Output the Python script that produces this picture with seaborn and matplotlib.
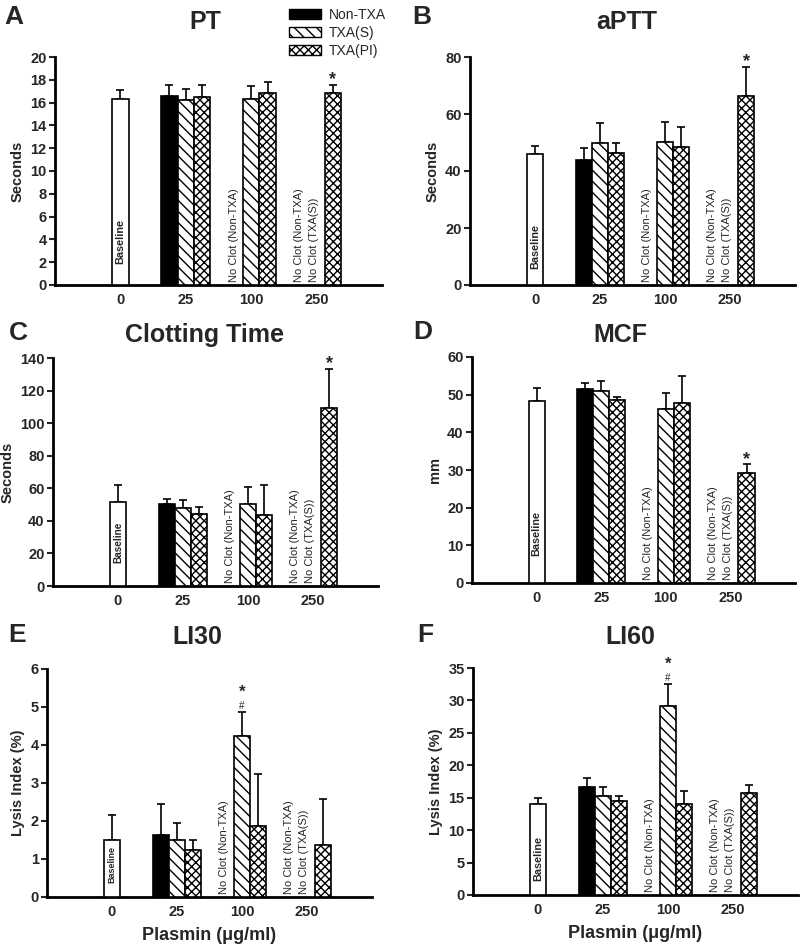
import numpy as np
import pandas as pd
import matplotlib
matplotlib.use('Agg')
import matplotlib.pyplot as plt
from matplotlib.patches import Patch
import seaborn as sns

# --- data ---
conc_labels = ['0', '25', '100', '250']
series_order = ['Baseline', 'Non-TXA', 'TXA(S)', 'TXA(PI)']

# one entry per drawn bar, same layout in every panel
bar_series = ['Baseline', 'Non-TXA', 'TXA(S)', 'TXA(PI)', 'TXA(S)', 'TXA(PI)', 'TXA(PI)']
bar_conc = ['0', '25', '25', '25', '100', '100', '250']

pt_mean = [16.3, 16.6, 16.25, 16.45, 16.3, 16.8, 16.85]
pt_sd = [0.8, 0.95, 0.95, 1.1, 1.15, 1.05, 0.7]
aptt_mean = [46.0, 44.0, 49.8, 46.3, 50.2, 48.4, 66.3]
aptt_sd = [2.9, 4.0, 7.0, 3.7, 6.9, 7.0, 10.2]
ct_mean = [51.7, 50.3, 48.2, 44.5, 50.3, 43.5, 109.4]
ct_sd = [10.5, 2.9, 4.6, 4.2, 10.7, 18.7, 23.8]
mcf_mean = [48.3, 51.4, 51.1, 48.7, 46.1, 47.7, 29.3]
mcf_sd = [3.4, 1.6, 2.4, 0.8, 4.4, 7.2, 2.2]
li30_mean = [1.50, 1.63, 1.50, 1.25, 4.24, 1.87, 1.38]
li30_sd = [0.65, 0.82, 0.44, 0.24, 0.63, 1.38, 1.21]
li60_mean = [14.0, 16.7, 15.2, 14.5, 29.1, 14.0, 15.8]
li60_sd = [0.9, 1.4, 1.4, 0.7, 3.5, 2.1, 1.1]

# significance marks: bar index -> symbols
star_only = {6: '*'}
star_hash = {4: '*#'}

panels = [
    ('A', 'PT', 'Seconds', pt_mean, pt_sd, 20, 2, star_only),
    ('B', 'aPTT', 'Seconds', aptt_mean, aptt_sd, 80, 20, star_only),
    ('C', 'Clotting Time', 'Seconds', ct_mean, ct_sd, 140, 20, star_only),
    ('D', 'MCF', 'mm', mcf_mean, mcf_sd, 60, 10, star_only),
    ('E', 'LI30', 'Lysis Index (%)', li30_mean, li30_sd, 6, 1, star_hash),
    ('F', 'LI60', 'Lysis Index (%)', li60_mean, li60_sd, 35, 5, star_hash),
]

# --- style ---
sns.set_style('ticks')
plt.rcParams['font.family'] = ['Liberation Sans', 'DejaVu Sans']
plt.rcParams['hatch.linewidth'] = 1.0

W = 0.25
slot = {'Baseline': 0, 'Non-TXA': -1, 'TXA(S)': 0, 'TXA(PI)': 1}
hatches = {'Baseline': '', 'Non-TXA': '', 'TXA(S)': '\\\\\\', 'TXA(PI)': 'xxxx'}
colors = {'Baseline': 'white', 'Non-TXA': 'black', 'TXA(S)': 'white', 'TXA(PI)': 'white'}

# axes boxes in pixels: left, top, right, bottom
boxes = [(55, 57, 382, 285), (470, 57, 795, 285),
         (53, 358, 378, 586), (472, 357, 795, 583),
         (47, 669, 372, 897), (473, 668, 798, 895)]
title_xy = [(205, 22), (627, 22), (205, 335), (620, 335), (197, 637), (630, 637)]
letter_xy = [(14, 17), (422, 17), (18, 333), (423, 332), (17, 635), (425, 635)]
# "Baseline" label: bottom (axes fraction) and size per panel
base_txt = [(0.09, 7.8), (0.07, 7.8), (0.1, 7.2), (0.12, 7.8), (0.06, 6.5), (0.06, 7.8)]

FW, FH = 800, 948
fig = plt.figure(figsize=(8, 9.48), dpi=100)

for i, (letter, title, ylab, mean, sd, ymax, ystep, marks) in enumerate(panels):
    l, t, r, b = boxes[i]
    ax = fig.add_axes([l / FW, 1 - b / FH, (r - l) / FW, (b - t) / FH])

    df = pd.DataFrame({'series': bar_series, 'conc': bar_conc, 'value': mean, 'sd': sd})
    df['pos'] = [conc_labels.index(c) + slot[s] * W for c, s in zip(df['conc'], df['series'])]

    sns.barplot(data=df, x='pos', y='value', hue='series', hue_order=series_order,
                palette=colors, native_scale=True, dodge=False, width=1.0,
                saturation=1, edgecolor='black', linewidth=1.2, errorbar=None,
                legend=False, ax=ax, zorder=3)

    # hatch each bar according to its series
    pos2series = dict(zip(np.round(df['pos'], 3), df['series']))
    for p in ax.patches:
        key = round(p.get_x() + p.get_width() / 2, 3)
        if key in pos2series:
            p.set_hatch(hatches[pos2series[key]])
            p.set_edgecolor('black')

    ax.errorbar(df['pos'], df['value'], yerr=[np.zeros(len(df)), df['sd']], fmt='none',
                ecolor='black', elinewidth=1.2, capsize=3, capthick=1.2, zorder=2)

    # significance symbols
    for idx, sym in marks.items():
        x0 = df['pos'][idx]
        top = df['value'][idx] + df['sd'][idx]
        if sym == '*':
            ax.annotate('*', xy=(x0, top), xytext=(0, 0.5), textcoords='offset points',
                        ha='center', va='baseline', fontsize=13, fontweight='bold',
                        annotation_clip=False)
        else:
            ax.annotate('#', xy=(x0, top), xytext=(0, 2), textcoords='offset points',
                        ha='center', va='baseline', fontsize=7, annotation_clip=False)
            ax.annotate('*', xy=(x0, top), xytext=(0, 11), textcoords='offset points',
                        ha='center', va='baseline', fontsize=12, fontweight='bold',
                        annotation_clip=False)

    # text labels inside / instead of bars
    by, bs = base_txt[i]
    ax.text(0, by, 'Baseline', transform=ax.get_xaxis_transform(), rotation=90,
            ha='center', va='bottom', fontsize=bs, fontweight='bold')
    ax.text(2 - W - 0.02, 0.012, 'No Clot (Non-TXA)', transform=ax.get_xaxis_transform(),
            rotation=90, ha='center', va='bottom', fontsize=8)
    ax.text(3 - W - 0.02, 0.012, 'No Clot (Non-TXA)', transform=ax.get_xaxis_transform(),
            rotation=90, ha='center', va='bottom', fontsize=8)
    ax.text(3 - 0.04, 0.012, 'No Clot (TXA(S))', transform=ax.get_xaxis_transform(),
            rotation=90, ha='center', va='bottom', fontsize=8)

    ax.set_xlim(-1, 4.0)
    ax.set_ylim(0, ymax)
    ax.set_yticks(np.arange(0, ymax + ystep / 2, ystep))
    ax.set_xticks(range(len(conc_labels)))
    ax.set_xticklabels(conc_labels)
    for lab in ax.get_xticklabels() + ax.get_yticklabels():
        lab.set_fontweight('bold')
        lab.set_fontsize(10.5)
    ax.tick_params(axis='x', length=0, pad=6)
    ax.tick_params(axis='y', direction='out', length=4, width=1.5, pad=2)
    sns.despine(ax=ax)
    for s in ['left', 'bottom']:
        ax.spines[s].set_linewidth(2)
        ax.spines[s].set_color('black')

    ax.set_ylabel(ylab, fontsize=10.5, fontweight='bold', labelpad=4)
    if letter in ('E', 'F'):
        ax.set_xlabel('Plasmin (\u03bcg/ml)', fontsize=13, fontweight='bold', va='center')
        ax.xaxis.set_label_coords(0.5, -38 / (b - t))
    else:
        ax.set_xlabel('')

    tx, ty = title_xy[i]
    fig.text(tx / FW, 1 - ty / FH, title, ha='center', va='center',
             fontsize=18, fontweight='bold')
    lx, ly = letter_xy[i]
    fig.text(lx / FW, 1 - ly / FH, letter, ha='center', va='center',
             fontsize=19, fontweight='bold')

    if letter == 'A':
        handles = [Patch(facecolor=colors[s], edgecolor='black', hatch=hatches[s], label=s)
                   for s in series_order[1:]]
        ax.legend(handles=handles, loc='upper left', bbox_to_anchor=(0.715, 1.215),
                  frameon=False, fontsize=10, handlelength=2.3, handleheight=0.65,
                  labelspacing=0.28, handletextpad=0.6, borderpad=0, borderaxespad=0)

fig.savefig('out.png', dpi=100)
